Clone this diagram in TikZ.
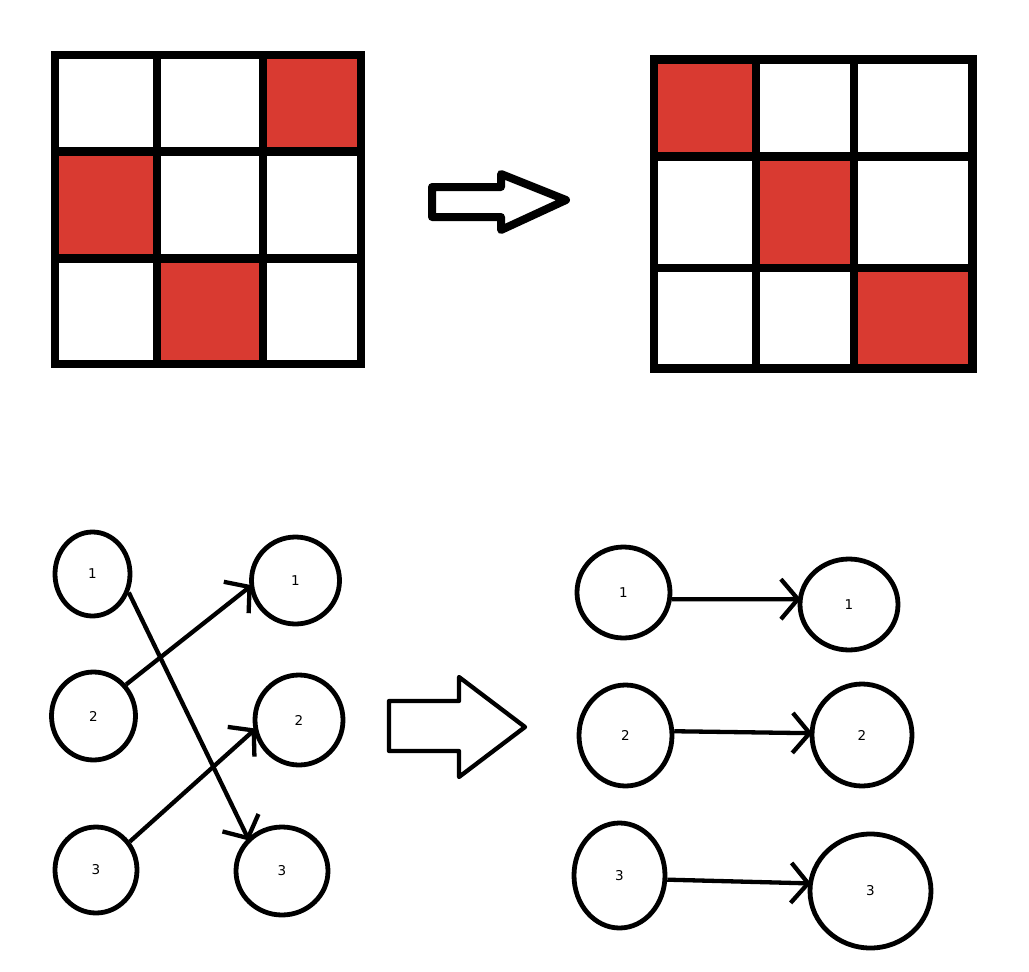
\documentclass[tikz,border=0pt]{standalone}
\usepackage{fontspec}
\setmainfont{DejaVu Sans}
\usetikzlibrary{shapes.geometric,decorations.markings}
\definecolor{cellred}{RGB}{217,58,49}
\tikzset{
  gridline/.style={line width=8.5pt},
  redcell/.style={fill=cellred},
  blockarrow/.style={draw, line join=round, fill=white},
  circ/.style={draw, ellipse, line width=4.8pt, inner sep=0pt, font=\fontsize{13.5}{15}\selectfont},
  conn/.style={line width=4.3pt, postaction={decorate},
    decoration={markings, mark=at position 1 with {\draw[line width=4.3pt, line join=miter] (-17pt,20pt) -- (0pt,0pt) -- (-17pt,-20pt);}}}
}
\begin{document}
\begin{tikzpicture}[x=1pt,y=-1pt]
\useasboundingbox (0,0) rectangle (1029,972);
% ---- left grid ----
\fill[redcell] (263,55) rectangle (361,151.5);
\fill[redcell] (55,151.5) rectangle (157,258.5);
\fill[redcell] (157,258.5) rectangle (263,364);
\draw[gridline] (55,55) rectangle (361,364);
\draw[gridline] (157,55) -- (157,364);
\draw[gridline] (263,55) -- (263,364);
\draw[gridline] (55,151.5) -- (361,151.5);
\draw[gridline] (55,258.5) -- (361,258.5);
% ---- right grid ----
\fill[redcell] (654,59.5) rectangle (756,156.5);
\fill[redcell] (756,156.5) rectangle (854,268);
\fill[redcell] (854,268) rectangle (972.5,368.5);
\draw[gridline] (654,59.5) rectangle (972.5,368.5);
\draw[gridline] (756,59.5) -- (756,368.5);
\draw[gridline] (854,59.5) -- (854,368.5);
\draw[gridline] (654,156.5) -- (972.5,156.5);
\draw[gridline] (654,268) -- (972.5,268);
% ---- block arrows ----
\draw[blockarrow, line width=8pt] (432,187) -- (501,187) -- (501,174) -- (566,200) -- (501,230) -- (501,217) -- (432,217) -- cycle;
\draw[blockarrow, line width=4.3pt] (389,701) -- (459,701) -- (459,677) -- (525,727) -- (459,777) -- (459,751) -- (389,751) -- cycle;
% ---- left graph ----
\node[circ, minimum width=75pt, minimum height=84pt] (L1) at (92.5,574) {1};
\node[circ, minimum width=84pt, minimum height=88pt] (L2) at (93.5,716) {2};
\node[circ, minimum width=82pt, minimum height=86pt] (L3) at (96,870) {3};
\node[circ, minimum width=88pt, minimum height=87pt] (R1) at (295.5,580.5) {1};
\node[circ, minimum width=88pt, minimum height=90pt] (R2) at (299,720) {2};
\node[circ, minimum width=92pt, minimum height=88pt] (R3) at (282,871) {3};
\draw[conn] (L1.-27) -- (R3.136);
\draw[conn] (L2.44) -- (R1.188);
\draw[conn] (L3.40) -- (R2.193);
% ---- right graph ----
\node[circ, minimum width=93pt, minimum height=91pt] (A1) at (623.5,592.5) {1};
\node[circ, minimum width=98pt, minimum height=91pt] (B1) at (849,604.5) {1};
\node[circ, minimum width=93pt, minimum height=101pt] (A2) at (625.5,735.5) {2};
\node[circ, minimum width=100pt, minimum height=102pt] (B2) at (862,735) {2};
\node[circ, minimum width=91pt, minimum height=105pt] (A3) at (619.5,875.5) {3};
\node[circ, minimum width=121pt, minimum height=114pt] (B3) at (870.5,891) {3};
\draw[conn] (A1.-8) -- (B1.174);
\draw[conn] (A2.5) -- (B2.178);
\draw[conn] (A3.-5) -- (B3.173);
\end{tikzpicture}
\end{document}
